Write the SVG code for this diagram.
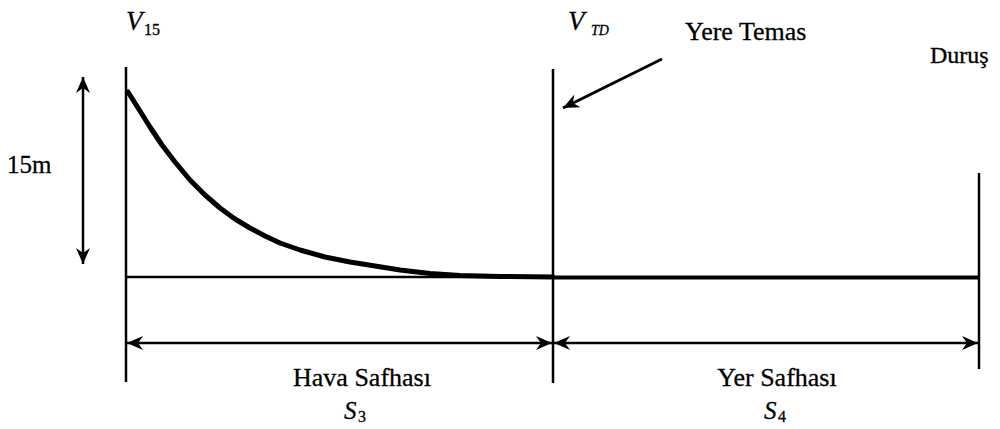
<svg xmlns="http://www.w3.org/2000/svg" width="1000" height="429" viewBox="0 0 1000 429">
<style>
  .t { font-family: "Liberation Serif", "Times New Roman", serif; fill: #000; stroke: #000; stroke-width: 0.3; }
  .i { font-style: italic; }
  .ln { stroke: #000; stroke-width: 2.5; fill: none; }
  .thick { stroke: #000; stroke-width: 4; fill: none; }
  .arr { stroke: #000; stroke-width: 2.5; fill: none; marker-start: url(#ah); marker-end: url(#ah); }
</style>
<defs>
  <marker id="ah" viewBox="0 0 16 14" refX="16" refY="7" markerWidth="16" markerHeight="14" markerUnits="userSpaceOnUse" orient="auto-start-reverse">
    <path d="M0,0 L16,7 L0,14 L5,7 z" fill="#000"/>
  </marker>
  <marker id="ah1" viewBox="0 0 16 14" refX="16" refY="7" markerWidth="16" markerHeight="14" markerUnits="userSpaceOnUse" orient="auto">
    <path d="M0,0 L16,7 L0,14 L5,7 z" fill="#000"/>
  </marker>
</defs>
<rect width="1000" height="429" fill="#fff"/>

<g id="verticals">
  <line class="ln" x1="126" y1="67" x2="126" y2="382"/>
  <line class="ln" x1="553" y1="69" x2="553" y2="383"/>
  <line class="ln" x1="979" y1="173" x2="979" y2="369"/>
</g>

<g id="ground">
  <line class="ln" x1="126" y1="277" x2="553" y2="277"/>
  <line class="thick" x1="553" y1="277.5" x2="979" y2="277.5"/>
</g>

<g id="trajectory">
  <path d="M128,92 L140,111 L150,127 L162,145 L175,162 L190,180 L205,195 L220,208 L235,219 L250,228 L265,236 L280,243 L300,250 L325,257 L350,262 L375,266 L400,270 L430,273.5 L460,275.5 L500,276.5 L553,277" stroke="#000" stroke-width="5" fill="none" stroke-linejoin="round" stroke-linecap="round"/>
</g>

<g id="connectors">
  <line class="arr" x1="83" y1="77" x2="83" y2="264"/>
  <line class="arr" x1="127" y1="343" x2="552" y2="343"/>
  <line class="arr" x1="554" y1="343" x2="978" y2="343"/>
  <line stroke="#000" stroke-width="3" x1="662" y1="59" x2="563" y2="108" marker-end="url(#ah1)"/>
</g>

<g id="label-v15">
  <text class="t i" x="126" y="30" font-size="27">V</text>
  <text class="t" x="144" y="35" font-size="16">15</text>
</g>
<g id="label-vtd">
  <text class="t i" x="568" y="30" font-size="27">V</text>
  <text class="t i" x="591" y="35" font-size="14">TD</text>
</g>
<g id="label-yere-temas">
  <text class="t" x="685" y="40" font-size="26">Yere Temas</text>
</g>
<g id="label-durus">
  <text class="t" x="930" y="63" font-size="24">Duruş</text>
</g>
<g id="label-15m">
  <text class="t" x="7" y="173" font-size="25">15m</text>
</g>
<g id="label-hava">
  <text class="t" x="362" y="386" font-size="26" text-anchor="middle">Hava Safhası</text>
  <text class="t i" x="344" y="419" font-size="25">S</text>
  <text class="t" x="358" y="422" font-size="16">3</text>
</g>
<g id="label-yer">
  <text class="t" x="777" y="386" font-size="26" text-anchor="middle">Yer Safhası</text>
  <text class="t i" x="764" y="419" font-size="25">S</text>
  <text class="t" x="778" y="422" font-size="16">4</text>
</g>
</svg>
